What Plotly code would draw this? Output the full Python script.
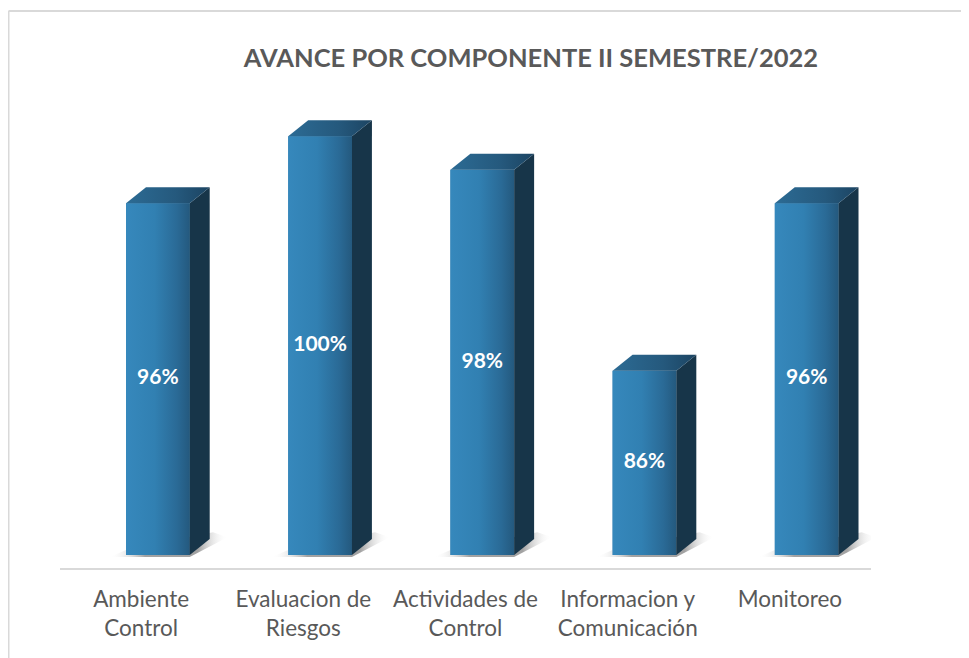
import plotly.graph_objects as go

categories = ["Ambiente<br>Control", "Evaluacion de<br>Riesgos", "Actividades de<br>Control",
              "Informacion y<br>Comunicación", "Monitoreo"]
values = [96, 100, 98, 86, 96]
labels = ["96%", "100%", "98%", "86%", "96%"]
title_text = "AVANCE POR COMPONENTE II SEMESTRE/2022"

FLOOR = 75.0
OFF_L, OFF_R = -0.093, 0.30
DX, DY = 0.123, 0.95
Y_MIN, Y_MAX = 74.22, 103.36

# page offset compensation (body margin)
L, T, PW, PH = 52, 72, 811, 488

fig = go.Figure()

xs = list(range(len(values)))

# shadows
for i, v in zip(xs, values):
    xl, xr = i + OFF_L, i + OFF_R
    fig.add_trace(go.Scatter(
        x=[xl - 0.10, xr, xr + DX + 0.11, xr + DX + 0.02, xl],
        y=[FLOOR - 0.12, FLOOR - 0.12, FLOOR + DY + 0.1, FLOOR + DY + 0.4, FLOOR + 0.3],
        mode="lines", line=dict(width=0), fill="toself",
        fillgradient=dict(type="horizontal",
                          colorscale=[[0, "rgba(255,255,255,0)"], [0.3, "rgba(100,100,100,0.6)"],
                                      [0.75, "rgba(100,100,100,0.6)"], [1, "rgba(255,255,255,0)"]]),
        hoverinfo="skip", showlegend=False))

# front faces as bars (base colour)
fig.add_trace(go.Bar(
    x=xs, y=[v - FLOOR for v in values], base=FLOOR,
    offset=OFF_L, width=OFF_R - OFF_L,
    marker=dict(color="#2F79AA", line=dict(width=0)),
    hoverinfo="skip", showlegend=False))

for i, v in zip(xs, values):
    xl, xr = i + OFF_L, i + OFF_R
    # front gradient
    fig.add_trace(go.Scatter(
        x=[xl, xr, xr, xl], y=[FLOOR, FLOOR, v, v],
        mode="lines", line=dict(width=0), fill="toself",
        fillgradient=dict(type="horizontal",
                          colorscale=[[0, "#3688BC"], [0.45, "#3180B2"], [0.8, "#2A6A96"], [1, "#24597E"]]),
        hoverinfo="skip", showlegend=False))
    # side face
    fig.add_trace(go.Scatter(
        x=[xr, xr + DX, xr + DX, xr], y=[FLOOR, FLOOR + DY, v + DY, v],
        mode="lines", line=dict(width=0), fill="toself", fillcolor="#173549",
        hoverinfo="skip", showlegend=False))
    # top face
    fig.add_trace(go.Scatter(
        x=[xl, xr, xr + DX, xl + DX], y=[v, v, v + DY, v + DY],
        mode="lines", line=dict(width=0), fill="toself",
        fillgradient=dict(type="horizontal",
                          colorscale=[[0, "#2C6B94"], [0.6, "#25597D"], [1, "#1C4462"]]),
        hoverinfo="skip", showlegend=False))

# data labels
fig.add_trace(go.Scatter(
    x=[i + (OFF_L + OFF_R) / 2 for i in xs],
    y=[(FLOOR + v) / 2 for v in values],
    mode="text", text=labels,
    textfont=dict(family="Lato", size=21, color="white", weight="bold"),
    hoverinfo="skip", showlegend=False))

fig.update_layout(
    width=969, height=658,
    margin=dict(l=L, r=969 - L - PW, t=T, b=658 - T - PH),
    paper_bgcolor="white", plot_bgcolor="white",
    title=dict(text=f"<b>{title_text}</b>", x=(531 - 8) / 969, xanchor="center", xref="container",
               y=1 - 50 / 658, yanchor="middle", yref="container",
               font=dict(family="Lato", size=25.5, color="#595959")),
    xaxis=dict(range=[-0.5, 4.5], tickvals=xs, ticktext=categories,
               showgrid=False, zeroline=False, showline=True, linecolor="#D9D9D9", linewidth=2,
               ticks="", ticklabelstandoff=10,
               tickfont=dict(family="Lato", size=22.5, color="#595959")),
    yaxis=dict(range=[Y_MIN, Y_MAX], visible=False, showgrid=False, zeroline=False),
    shapes=[
        dict(type="line", xref="paper", yref="paper",
             x0=(0.5 - L) / PW, x1=(969 - L) / PW, y0=(T + PH - 3) / PH, y1=(T + PH - 3) / PH,
             line=dict(color="#D9D9D9", width=2)),
        dict(type="line", xref="paper", yref="paper",
             x0=(0.5 - L) / PW, x1=(0.5 - L) / PW, y0=(T + PH - 3) / PH, y1=(T + PH - 660) / PH,
             line=dict(color="#D9D9D9", width=2)),
    ],
)

fig.write_html("out.html")
